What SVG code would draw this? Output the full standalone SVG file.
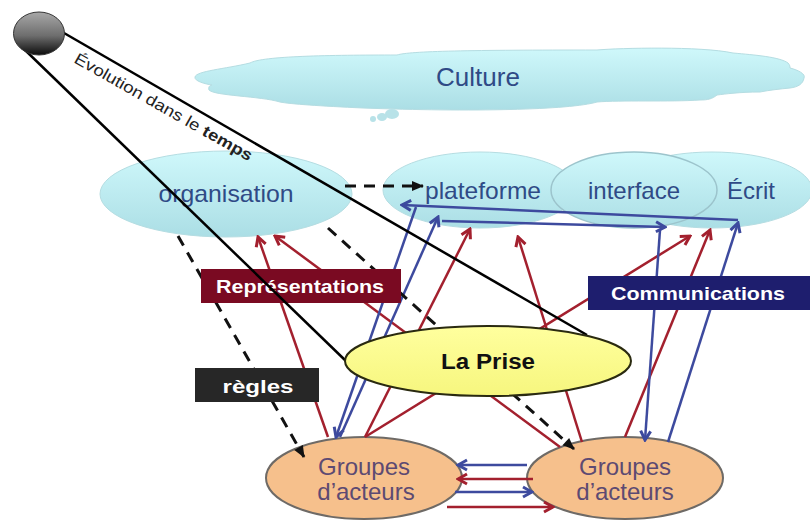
<svg xmlns="http://www.w3.org/2000/svg" width="810" height="520" viewBox="0 0 810 520">
<style>
.sans{font-family:"Liberation Sans",Arial,sans-serif}
.blue-t{fill:#2f4a86;font-size:24px;text-anchor:middle}
.grp-t{fill:#5d4a72;font-size:24px;text-anchor:middle}
.lab{fill:#fff;font-size:19px;font-weight:bold;text-anchor:middle}
.cy{fill:url(#cyan);stroke:#b5dde2;stroke-width:1}
.or{fill:#f6c08c;stroke:#6e6a66;stroke-width:2}
.r{stroke:#a3202e;stroke-width:2.500;fill:none;marker-end:url(#ar)}
.b{stroke:#3d4a9e;stroke-width:2.500;fill:none;marker-end:url(#ab)}
.d{stroke:#111;stroke-width:3;fill:none;stroke-dasharray:11 8;marker-end:url(#ak)}
.k{stroke:#000;stroke-width:2.500;fill:none}
</style>
<defs>
<linearGradient id="cyan" x1="0" y1="0" x2="0" y2="1"><stop offset="0" stop-color="#cff8fb"/><stop offset="1" stop-color="#abdee5"/></linearGradient>
<linearGradient id="yel" x1="0" y1="0" x2="0" y2="1"><stop offset="0" stop-color="#ffff9e"/><stop offset="1" stop-color="#f6f67e"/></linearGradient>
<linearGradient id="sph" x1="0" y1="0" x2="0" y2="1"><stop offset="0" stop-color="#a8a8a8"/><stop offset="0.55" stop-color="#6e6e6e"/><stop offset="1" stop-color="#0c0c0c"/></linearGradient>
<marker id="ar" markerUnits="userSpaceOnUse" markerWidth="13" markerHeight="14" refX="11" refY="7" orient="auto"><path d="M2 2L11 7L2 12" fill="none" stroke="#a3202e" stroke-width="3"/></marker>
<marker id="ab" markerUnits="userSpaceOnUse" markerWidth="13" markerHeight="14" refX="11" refY="7" orient="auto"><path d="M2 2L11 7L2 12" fill="none" stroke="#3d4a9e" stroke-width="3"/></marker>
<marker id="ak" markerUnits="userSpaceOnUse" markerWidth="14" markerHeight="12" refX="12" refY="6" orient="auto"><path d="M1 1L13 6L1 11Z" fill="#111"/></marker>
</defs>
<rect width="810" height="520" fill="#fff"/>
<g id="culture">
<path class="cy" d="M195 77C196 71 225 69 250 63C262 56 330 55 397 55C410 51 470 50 597 50C620 48 700 46 733 53C755 55 780 57 788 63C790 65 790 67 790 68C798 70 806 74 804 78C803 84 798 87 790 88C780 89 770 90 760 92C740 92 725 94 717 95C712 99 708 100 700 100C670 102 620 100 597 102C570 110 470 112 363 108C320 106 290 104 280 102C260 96 215 96 209 90C208 87 210 85 212 85C205 84 194 81 195 77Z"/>
<ellipse cx="392" cy="114" rx="7" ry="5" fill="#b8e2e8"/><ellipse cx="382" cy="117" rx="5" ry="4" fill="#b8e2e8"/><ellipse cx="373" cy="119" rx="3" ry="3" fill="#b8e2e8"/>
<text class="sans blue-t" x="478" y="86" style="font-size:26px">Culture</text>
</g>
<g id="organisation"><ellipse class="cy" cx="226" cy="194" rx="126" ry="43"/><text class="sans blue-t" x="226" y="202" textLength="135" lengthAdjust="spacingAndGlyphs">organisation</text></g>
<g id="ecrit"><ellipse class="cy" cx="712" cy="190" rx="100" ry="38"/><text class="sans blue-t" x="751" y="199">Écrit</text></g>
<g id="plateforme"><ellipse class="cy" cx="480" cy="190" rx="97" ry="38"/><text class="sans blue-t" x="483" y="199" textLength="116" lengthAdjust="spacingAndGlyphs">plateforme</text></g>
<g id="interface"><ellipse class="cy" cx="634" cy="190" rx="83" ry="38" style="stroke:#9cc4cc;stroke-width:1.500"/><text class="sans blue-t" x="634" y="199">interface</text></g>
<g id="groupes-1"><ellipse class="or" cx="364" cy="478" rx="98" ry="41"/><text class="sans grp-t" x="364" y="475">Groupes</text><text class="sans grp-t" x="366" y="500">d’acteurs</text></g>
<g id="groupes-2"><ellipse class="or" cx="625" cy="478" rx="98" ry="41"/><text class="sans grp-t" x="625" y="475">Groupes</text><text class="sans grp-t" x="625" y="500">d’acteurs</text></g>
<g id="connectors">
<path class="r" d="M328 437L258 237"/>
<path class="r" d="M560 447L275 236"/>
<path class="r" d="M365 437L470 229"/>
<path class="r" d="M365 437L690 236"/>
<path class="r" d="M582 442L518 237"/>
<path class="r" d="M625 437L710 230"/>
<path class="b" d="M416 207L336 437"/>
<path class="b" d="M340 437L438 217"/>
<path class="b" d="M738 220L402 205"/>
<path class="b" d="M442 221L665 227"/>
<path class="b" d="M660 230L645 440"/>
<path class="b" d="M668 442L738 223"/>
<path class="b" d="M527 465L458 465"/>
<path class="r" d="M533 479L458 479"/>
<path class="b" d="M455 492L532 492"/>
<path class="r" d="M447 507L553 507"/>
<path class="d" d="M345 186L423 186"/>
<path class="d" d="M178 236L304 457"/>
<path class="d" d="M328 228L574 449"/>
</g>
<g id="representations"><rect x="201" y="269" width="200" height="34" fill="#7a0a22"/><text class="sans lab" x="300" y="293" textLength="168" lengthAdjust="spacingAndGlyphs">Représentations</text></g>
<g id="regles"><rect x="195" y="368" width="124" height="34" fill="#272727"/><text class="sans lab" x="258" y="393" textLength="71" lengthAdjust="spacingAndGlyphs">règles</text></g>
<g id="communications"><rect x="588" y="276" width="222" height="34" fill="#1e1e6e"/><text class="sans lab" x="698" y="300" textLength="174" lengthAdjust="spacingAndGlyphs">Communications</text></g>
<g id="connectors-time">
<path class="k" d="M64 33L587 335"/>
<path class="k" d="M25 50L347 362"/>
</g>
<g id="sphere"><ellipse cx="39" cy="33.500" rx="25.500" ry="21.500" fill="url(#sph)" stroke="#333" stroke-width="1"/></g>
<text class="sans" transform="translate(73 62) rotate(29.500)" font-size="16" fill="#222" textLength="202" lengthAdjust="spacingAndGlyphs">Évolution dans le <tspan font-weight="bold">temps</tspan></text>
<g id="la-prise"><ellipse cx="488" cy="361" rx="143" ry="35" fill="url(#yel)" stroke="#2a2a10" stroke-width="2"/><text class="sans" x="488" y="369" font-size="22" font-weight="bold" text-anchor="middle" fill="#111" textLength="94" lengthAdjust="spacingAndGlyphs">La Prise</text></g>
</svg>
